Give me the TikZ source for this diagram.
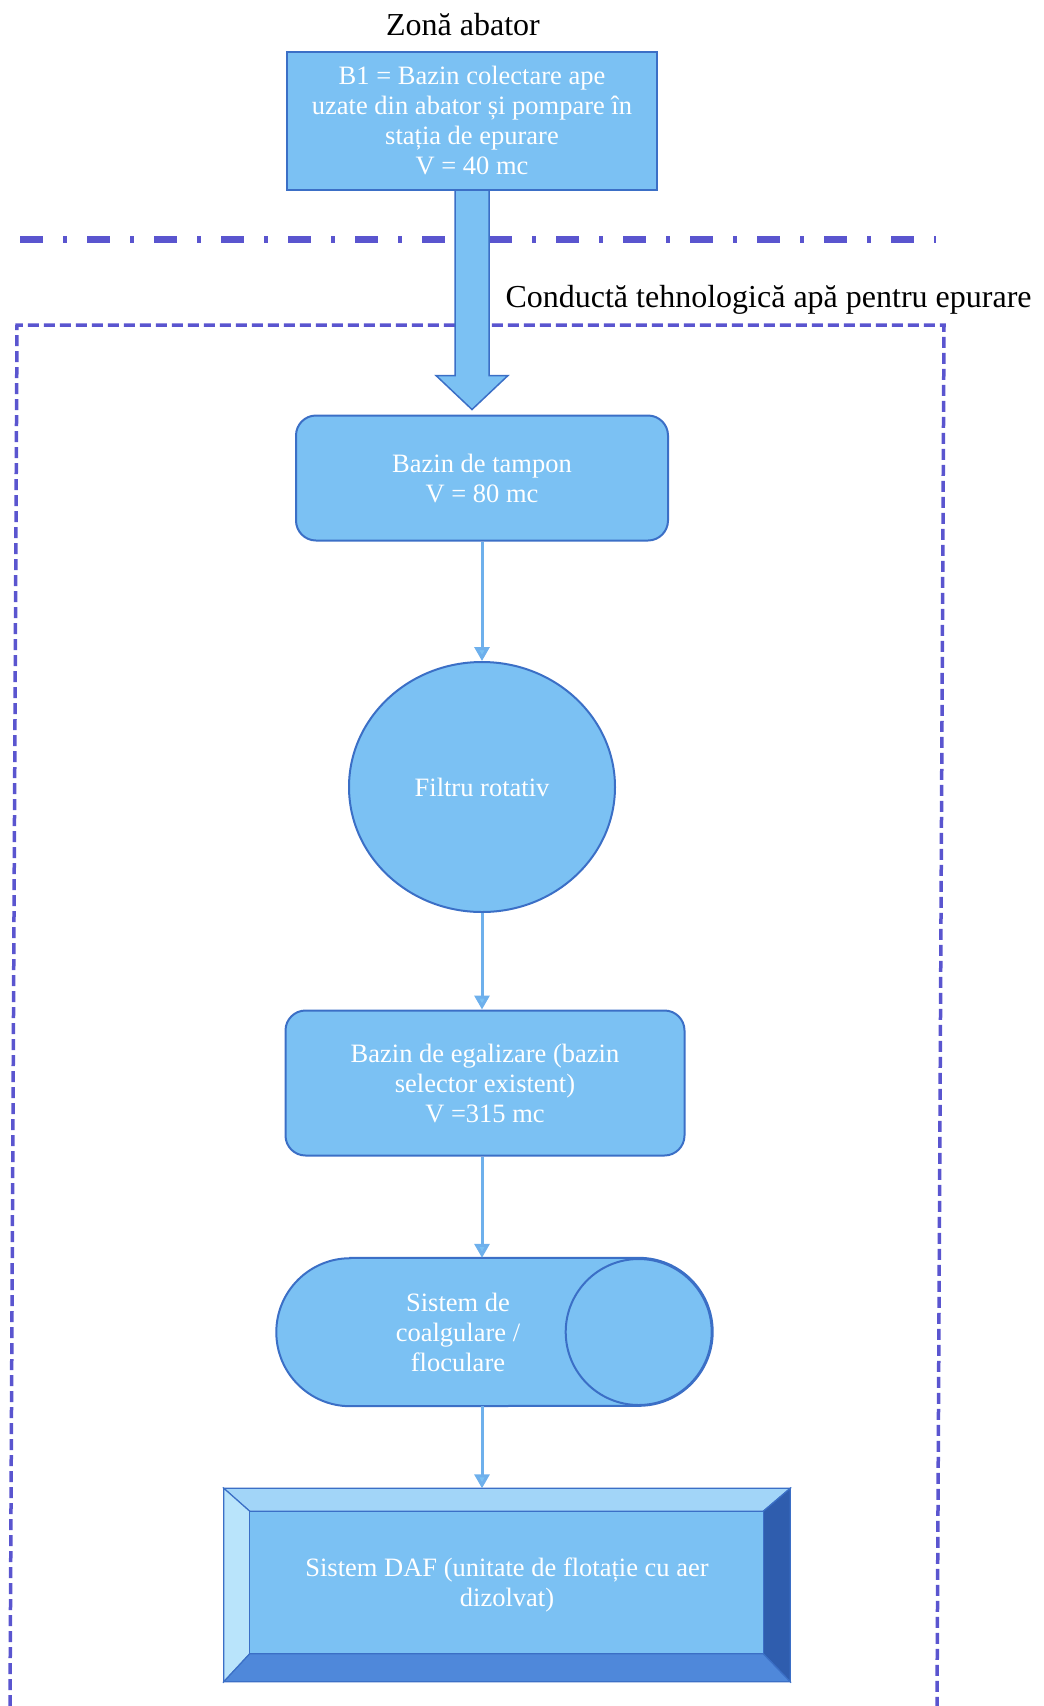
\documentclass[tikz,border=0pt]{standalone}
\usepackage{fontspec}
\setmainfont{Liberation Serif}
\usetikzlibrary{positioning, calc, shapes.geometric, arrows.meta, backgrounds}

\definecolor{boxfill}{HTML}{7BC1F3}
\definecolor{boxline}{HTML}{3B6FC6}
\definecolor{flowline}{HTML}{6EB0EC}
\definecolor{zoneline}{HTML}{5A55CF}
\definecolor{bevellight}{HTML}{A2D5F8}
\definecolor{bevelpale}{HTML}{B9E4FB}
\definecolor{bevelmid}{HTML}{4F88DA}
\definecolor{beveldark}{HTML}{2F5DAE}

\begin{document}
\begin{tikzpicture}[x = 1pt, y = 1pt,
  every node/.style = {font = \fontsize{26.5}{30}\selectfont},
  caption/.style = {font = \fontsize{32}{35}\selectfont, text = black},
  unit/.style = {draw = boxline, line width = 2pt, fill = boxfill, text = white, align = center},
  tank/.style = {unit, rounded corners = 20pt},
  flow/.style = {draw = flowline, line width = 3pt, -{Triangle[length = 14pt, width = 15pt, fill = boxfill]}},
  bigarrow/.style = {draw = boxline, line width = 1.5pt, fill = boxfill, line join = miter},
  facet/.style = {draw = boxline, line width = 1.2pt}]

\useasboundingbox (0, 0) rectangle (1044, -1706);

% zone separator and treatment plant border
\draw[zoneline, line width = 7pt, dash pattern = on 23pt off 20pt on 4pt off 20pt] (20, -239) -- (936, -239);
\draw[zoneline, line width = 3.5pt, dash pattern = on 11pt off 5pt] (10, -1706) -- (17, -325) -- (944, -325) -- (937, -1706);

\node[caption] (zone) at (463, -25) {Zonă abator};
\node[caption, anchor = west] (pipe) at (502, -300) {Conductă tehnologică apă pentru epurare};

\node[unit, minimum width = 370, minimum height = 138] (b1) at (472, -121)
   {B1 = Bazin colectare ape\\uzate din abator și pompare în\\stația de epurare\\V = 40 mc};
\node[tank, minimum width = 372, minimum height = 125] (tampon) at (482, -478) {Bazin de tampon\\V = 80 mc};
\node[unit, ellipse, minimum width = 266, minimum height = 250] (filtru) at (482, -787) {Filtru rotativ};
\node[tank, minimum width = 399, minimum height = 145] (egal) at (485, -1083)
   {Bazin de egalizare (bazin\\selector existent)\\V =315 mc};
\node[align = center, text = white, minimum width = 361, minimum height = 148] (coag) at (458, -1332)
   {Sistem de\\coalgulare /\\floculare};
\node[align = center, text = white, minimum width = 566, minimum height = 193] (daf) at (507, -1585)
   {Sistem DAF (unitate de flotație cu aer\\dizolvat)};

\begin{scope}[on background layer]
% coagulation cylinder
\draw[unit] ([xshift = 73pt]coag.north west) -- (coag.north east) arc (90:-90:74pt)
   -- ([xshift = 73pt]coag.south west) arc (270:90:74pt) -- cycle;
\draw[unit] (coag.east) circle (73pt);
% DAF bevelled block
\draw[facet, fill = bevellight] (daf.north west) -- (daf.north east) -- ($(daf.north east)+(-27, -23)$) -- ($(daf.north west)+(26, -23)$) -- cycle;
\draw[facet, fill = bevelpale] (daf.north west) -- ($(daf.north west)+(26, -23)$) -- ($(daf.south west)+(26, 28)$) -- (daf.south west) -- cycle;
\draw[facet, fill = beveldark] (daf.north east) -- (daf.south east) -- ($(daf.south east)+(-27, 28)$) -- ($(daf.north east)+(-27, -23)$) -- cycle;
\draw[facet, fill = bevelmid] (daf.south west) -- (daf.south east) -- ($(daf.south east)+(-27, 28)$) -- ($(daf.south west)+(26, 28)$) -- cycle;
\draw[facet, fill = boxfill] ($(daf.north west)+(26, -23)$) rectangle ($(daf.south east)+(-27, 28)$);
\end{scope}

% pumping main
\coordinate (tip) at ($(b1.south |- tampon.north)+(0, 5)$);
\draw[bigarrow] ($(b1.south)+(-17, 0)$) -- ($(tip)+(-17, 34)$) -- ($(tip)+(-36, 34)$) -- (tip)
   -- ($(tip)+(36, 34)$) -- ($(tip)+(17, 34)$) -- ($(b1.south)+(17, 0)$);

\draw[flow] (tampon.south -| filtru) -- (filtru.north);
\draw[flow] (filtru.south) -- (egal.north -| filtru);
\draw[flow] (egal.south -| filtru) -- (coag.north -| filtru);
\draw[flow] (coag.south -| filtru) -- (daf.north -| filtru);

\end{tikzpicture}
\end{document}
